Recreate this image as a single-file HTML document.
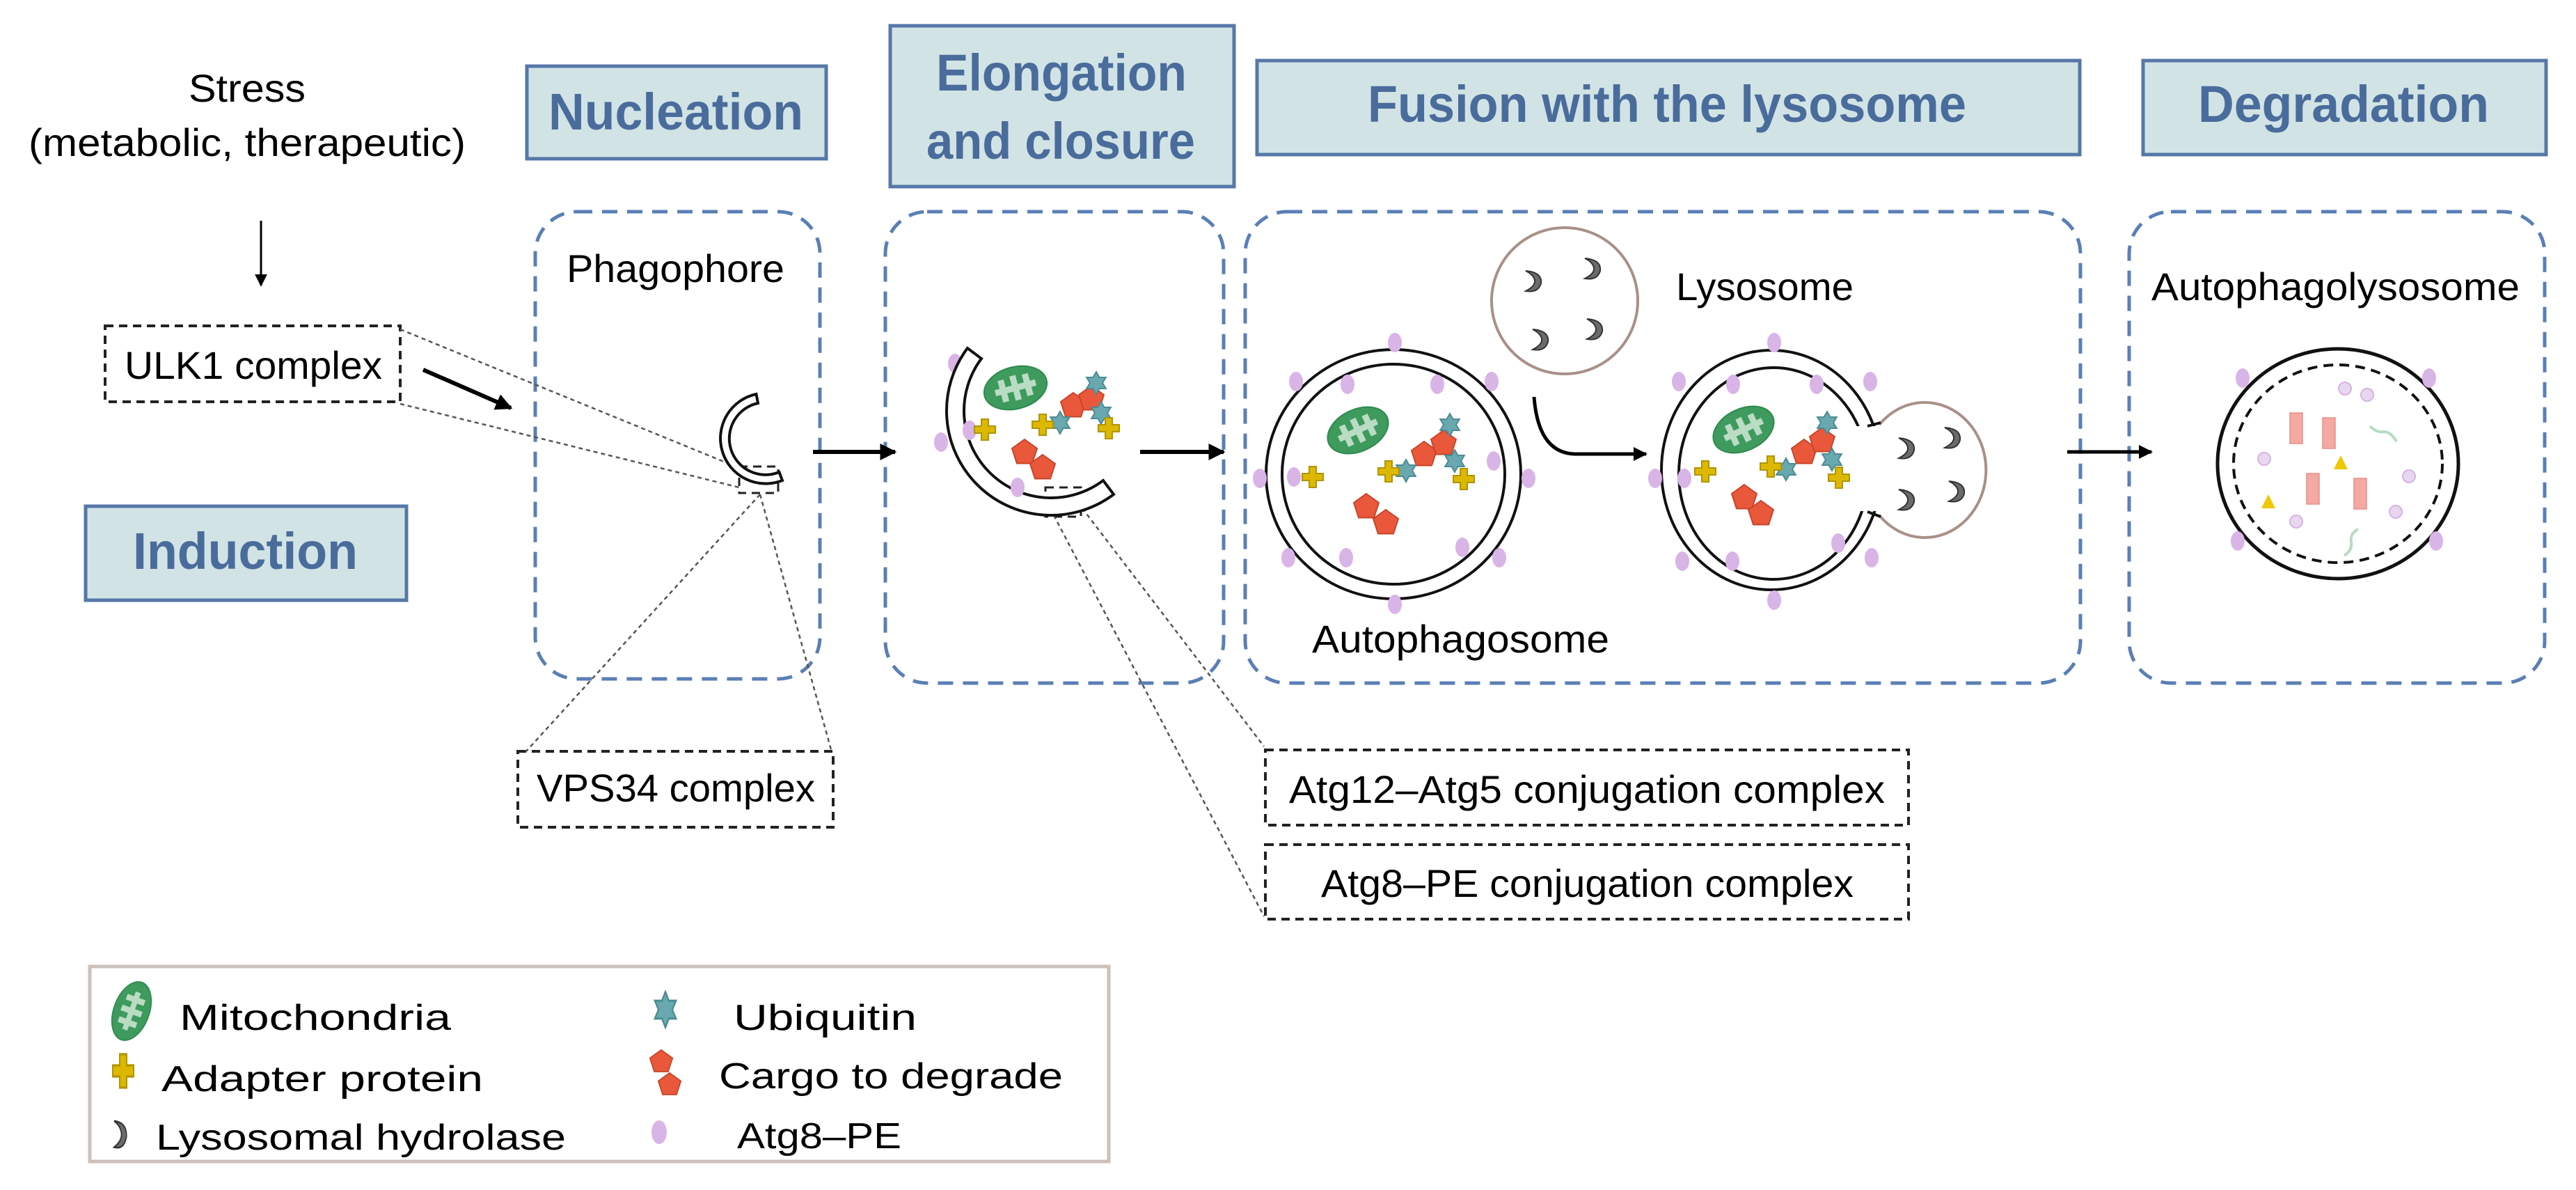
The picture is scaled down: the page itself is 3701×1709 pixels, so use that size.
<!DOCTYPE html>
<html><head><meta charset="utf-8"><style>html,body{margin:0;padding:0;background:#fff}svg{display:block}</style></head>
<body>
<svg width="3701" height="1709" viewBox="0 0 3701 1709" xmlns="http://www.w3.org/2000/svg" font-family="Liberation Sans, sans-serif">
<defs>
<marker id="ah" viewBox="0 0 10 10" refX="9" refY="5" markerWidth="4" markerHeight="4" orient="auto"><path d="M0,0 L10,5 L0,10 Z" fill="#000"/></marker>
<marker id="ah2" viewBox="0 0 10 10" refX="9" refY="5" markerWidth="6" markerHeight="6" orient="auto"><path d="M0,0 L10,5 L0,10 Z" fill="#000"/></marker>
<g id="pent"><polygon points="0,-19 18,-6 11,15.5 -11,15.5 -18,-6" fill="#e9583b" stroke="#c8452a" stroke-width="2"/></g>
<g id="star"><polygon points="0,-16 4.5,-8 13.8,-8 9,0 13.8,8 4.5,8 0,16 -4.5,8 -13.8,8 -9,0 -13.8,-8 -4.5,-8" fill="#6aa8b0" stroke="#4a8c94" stroke-width="2"/></g>
<g id="plus"><path d="M-5,-15 H5 V-5 H15 V5 H5 V15 H-5 V5 H-15 V-5 H-5 Z" fill="#dcb900" stroke="#b09400" stroke-width="2"/></g>
<g id="dot"><ellipse rx="10" ry="14" fill="#d9b4e6"/></g>
<g id="mito"><ellipse rx="46" ry="30" fill="#3e9a5d" stroke="#2f8a4e" stroke-width="2"/><path d="M-30,0 H30 M-18,-16 V16 M0,-18 V18 M18,-16 V16" stroke="#b9dcc3" stroke-width="9" fill="none"/></g>
<g id="hyd"><path d="M-10,-14 Q14,-12 12,4 Q8,18 -10,15 Q4,8 3,0 Q2,-8 -10,-14 Z" fill="#6b6b6b" stroke="#333" stroke-width="2"/></g>
<g id="pdot"><circle r="9" fill="#e9d6f0" stroke="#d4b4e0" stroke-width="2"/></g>
</defs>

<!-- Header boxes -->
<g fill="#d1e3e4" stroke="#5677a8" stroke-width="5">
<rect x="757" y="95" width="430" height="133"/>
<rect x="1279" y="37" width="494" height="231"/>
<rect x="1806" y="87" width="1182" height="135"/>
<rect x="3079" y="87" width="579" height="135"/>
<rect x="123" y="727" width="461" height="135"/>
</g>
<g fill="#4a6c9c" font-weight="bold" font-size="74">
<text x="788" y="186" textLength="366" lengthAdjust="spacingAndGlyphs">Nucleation</text>
<text x="1345" y="130" textLength="360" lengthAdjust="spacingAndGlyphs">Elongation</text>
<text x="1331" y="228" textLength="386" lengthAdjust="spacingAndGlyphs">and closure</text>
<text x="1965" y="175" textLength="860" lengthAdjust="spacingAndGlyphs">Fusion with the lysosome</text>
<text x="3158" y="175" textLength="418" lengthAdjust="spacingAndGlyphs">Degradation</text>
<text x="191" y="817" textLength="323" lengthAdjust="spacingAndGlyphs">Induction</text>
</g>

<!-- Stage dashed boxes -->
<g fill="none" stroke="#5a7fb5" stroke-width="5" stroke-dasharray="22 14">
<rect x="769" y="304" width="409" height="671" rx="60"/>
<rect x="1272" y="304" width="486" height="677" rx="60"/>
<rect x="1789" y="304" width="1200" height="677" rx="60"/>
<rect x="3059" y="304" width="597" height="677" rx="60"/>
</g>

<!-- Text labels -->
<g fill="#000" font-size="56">
<text x="271" y="146" textLength="168" lengthAdjust="spacingAndGlyphs">Stress</text>
<text x="41" y="224" textLength="628" lengthAdjust="spacingAndGlyphs">(metabolic, therapeutic)</text>
<text x="179" y="544" textLength="370" lengthAdjust="spacingAndGlyphs">ULK1 complex</text>
<text x="814" y="405" textLength="313" lengthAdjust="spacingAndGlyphs">Phagophore</text>
<text x="2408" y="431" textLength="255" lengthAdjust="spacingAndGlyphs">Lysosome</text>
<text x="1885" y="937" textLength="427" lengthAdjust="spacingAndGlyphs">Autophagosome</text>
<text x="3091" y="431" textLength="529" lengthAdjust="spacingAndGlyphs">Autophagolysosome</text>
<text x="771" y="1151" textLength="400" lengthAdjust="spacingAndGlyphs">VPS34 complex</text>
<text x="1852" y="1153" textLength="856" lengthAdjust="spacingAndGlyphs">Atg12–Atg5 conjugation complex</text>
<text x="1898" y="1288" textLength="765" lengthAdjust="spacingAndGlyphs">Atg8–PE conjugation complex</text>
</g>

<!-- Black dashed label boxes -->
<g fill="none" stroke="#222" stroke-width="4" stroke-dasharray="12 8">
<rect x="151" y="468" width="424" height="109"/>
<rect x="744" y="1079" width="453" height="109"/>
<rect x="1818" y="1077" width="924" height="108"/>
<rect x="1818" y="1213" width="924" height="107"/>
<rect x="1062" y="670" width="56" height="38" stroke-width="3"/>
<rect x="1502" y="700" width="51" height="42" stroke-width="3"/>
</g>
<!-- dotted connectors -->
<g stroke="#555" stroke-width="2.5" stroke-dasharray="6 5" fill="none">
<line x1="575" y1="473" x2="1062" y2="672"/>
<line x1="575" y1="580" x2="1062" y2="700"/>
<line x1="1092" y1="710" x2="755" y2="1080"/>
<line x1="1092" y1="710" x2="1195" y2="1080"/>
<line x1="1514" y1="740" x2="1816" y2="1316"/>
<line x1="1555" y1="730" x2="1816" y2="1072"/>
</g>

<!-- arrows -->
<g stroke="#000" fill="none">
<line x1="375" y1="317" x2="375" y2="410" stroke-width="3" marker-end="url(#ah2)"/>
<line x1="608" y1="531" x2="734" y2="586" stroke-width="6" marker-end="url(#ah)"/>
<line x1="1168" y1="649" x2="1286" y2="649" stroke-width="6" marker-end="url(#ah)"/>
<line x1="1638" y1="649" x2="1758" y2="649" stroke-width="6" marker-end="url(#ah)"/>
<path d="M2204,570 Q2210,650 2262,652 L2365,652" stroke-width="5" marker-end="url(#ah)"/>
<line x1="2970" y1="649" x2="3091" y2="649" stroke-width="5" marker-end="url(#ah)"/>
</g>

<!-- Phagophore -->
<path d="M1124,690 A65,65 0 1 1 1086.5,566 L1089,579 A52,52 0 1 0 1119.5,678 Z" fill="#fff" stroke="#111" stroke-width="4"/>

<!-- Elongation -->
<use href="#dot" x="1372" y="522"/><use href="#dot" x="1352" y="635"/>
<path d="M1600,710 A150,150 0 0 1 1390,500 L1410,515 A125,125 0 0 0 1585,690 Z" fill="#fff" stroke="#111" stroke-width="4"/>
<use href="#dot" x="1393" y="618"/><use href="#dot" x="1462" y="700"/>
<use href="#mito" transform="translate(1459,557) rotate(-15)"/>
<use href="#pent" x="1542" y="583"/><use href="#pent" x="1568" y="573"/>
<use href="#pent" x="1472" y="650"/><use href="#pent" x="1498" y="672"/>
<use href="#star" x="1575" y="550"/><use href="#star" x="1582" y="593"/><use href="#star" x="1523" y="607"/>
<use href="#plus" x="1415" y="617"/><use href="#plus" x="1498" y="610"/><use href="#plus" x="1593" y="615"/>

<!-- Lysosome -->
<circle cx="2248" cy="432" r="105" fill="#fff" stroke="#a89088" stroke-width="4"/>
<use href="#hyd" x="2202" y="403"/><use href="#hyd" x="2287" y="385"/><use href="#hyd" x="2212" y="487"/><use href="#hyd" x="2290" y="472"/>

<!-- Autophagosome -->
<ellipse cx="2002" cy="681" rx="183" ry="179" fill="#fff" stroke="#111" stroke-width="4"/>
<ellipse cx="2002" cy="681" rx="160" ry="158" fill="#fff" stroke="#111" stroke-width="4"/>
<g>
<use href="#dot" x="2004" y="492"/><use href="#dot" x="1862" y="548"/><use href="#dot" x="2143" y="548"/>
<use href="#dot" x="1810" y="687"/><use href="#dot" x="2196" y="687"/><use href="#dot" x="1851" y="801"/>
<use href="#dot" x="2154" y="801"/><use href="#dot" x="2004" y="868"/>
<use href="#dot" x="1936" y="552"/><use href="#dot" x="2065" y="552"/><use href="#dot" x="1859" y="685"/>
<use href="#dot" x="2146" y="662"/><use href="#dot" x="1934" y="801"/><use href="#dot" x="2101" y="786"/>
</g>
<use href="#mito" transform="translate(1951,618) rotate(-25)"/>
<use href="#pent" x="2046" y="653"/><use href="#pent" x="2074" y="637"/><use href="#pent" x="1963" y="728"/><use href="#pent" x="1991" y="751"/>
<use href="#star" x="2083" y="610"/><use href="#star" x="2090" y="662"/><use href="#star" x="2020" y="676"/>
<use href="#plus" x="1886" y="685"/><use href="#plus" x="1995" y="677"/><use href="#plus" x="2103" y="688"/>

<!-- Fused -->
<ellipse cx="2545" cy="675" rx="158" ry="172" fill="#fff" stroke="#111" stroke-width="4"/>
<ellipse cx="2548" cy="680" rx="136" ry="152" fill="#fff" stroke="#111" stroke-width="4"/>
<rect x="2660" y="612" width="50" height="122" fill="#fff"/>
<path d="M2700,610 A88,97 0 1 1 2700,740" fill="#fff" stroke="#a89088" stroke-width="4"/>
<path d="M2683,612 L2702,607 M2683,735 L2702,742" stroke="#111" stroke-width="4"/>
<use href="#hyd" x="2738" y="643"/><use href="#hyd" x="2738" y="717"/><use href="#hyd" x="2804" y="628"/><use href="#hyd" x="2810" y="705"/>
<g>
<use href="#dot" x="2549" y="492"/><use href="#dot" x="2412" y="548"/><use href="#dot" x="2687" y="548"/>
<use href="#dot" x="2378" y="687"/><use href="#dot" x="2420" y="687"/><use href="#dot" x="2417" y="806"/>
<use href="#dot" x="2689" y="801"/><use href="#dot" x="2549" y="862"/>
<use href="#dot" x="2490" y="552"/><use href="#dot" x="2610" y="552"/><use href="#dot" x="2489" y="806"/><use href="#dot" x="2641" y="780"/>
</g>
<use href="#mito" transform="translate(2505,617) rotate(-25)"/>
<use href="#pent" x="2592" y="650"/><use href="#pent" x="2618" y="633"/><use href="#pent" x="2506" y="715"/><use href="#pent" x="2530" y="738"/>
<use href="#star" x="2625" y="607"/><use href="#star" x="2632" y="660"/><use href="#star" x="2566" y="674"/>
<use href="#plus" x="2450" y="677"/><use href="#plus" x="2544" y="670"/><use href="#plus" x="2642" y="686"/>

<!-- Autophagolysosome -->
<ellipse cx="3359" cy="666" rx="173" ry="165" fill="#fff" stroke="#111" stroke-width="5"/>
<ellipse cx="3359" cy="666" rx="150" ry="142" fill="none" stroke="#111" stroke-width="4" stroke-dasharray="14 9"/>
<use href="#dot" x="3222" y="543"/><use href="#dot" x="3490" y="543"/><use href="#dot" x="3215" y="777"/><use href="#dot" x="3500" y="777"/>
<g fill="#f4a9a3" stroke="#eb8e88" stroke-width="1.5">
<rect x="3290" y="593" width="18" height="44"/><rect x="3337" y="600" width="18" height="44"/>
<rect x="3314" y="680" width="18" height="44"/><rect x="3382" y="687" width="18" height="44"/>
</g>
<polygon points="3363,654 3373,674 3353,674" fill="#f0c800"/>
<polygon points="3259,710 3269,730 3249,730" fill="#f0c800"/>
<use href="#pdot" x="3369" y="558"/><use href="#pdot" x="3401" y="567"/><use href="#pdot" x="3253" y="659"/>
<use href="#pdot" x="3461" y="684"/><use href="#pdot" x="3442" y="735"/><use href="#pdot" x="3299" y="749"/>
<path d="M3405,612 q10,10 20,8 q10,0 18,14" fill="none" stroke="#b5dcc0" stroke-width="4"/>
<path d="M3388,760 q-12,6 -10,18 q2,12 -10,20" fill="none" stroke="#b5dcc0" stroke-width="4"/>

<!-- Legend -->
<rect x="129" y="1388" width="1464" height="280" fill="#fff" stroke="#cbc1ba" stroke-width="5"/>
<use href="#mito" transform="translate(189,1452) rotate(-70) scale(0.95,0.85)"/>
<use href="#star" transform="translate(956,1450) scale(1.1,1.6)"/>
<use href="#plus" transform="translate(177,1538) scale(1,1.6)"/>
<use href="#pent" transform="translate(950,1525) scale(0.9)"/><use href="#pent" transform="translate(962,1558) scale(0.9)"/>
<use href="#hyd" transform="translate(172,1628) scale(0.8,1.3)"/>
<ellipse cx="947" cy="1626" rx="11" ry="17" fill="#d9b4e6"/>
<g font-size="52" fill="#000">
<text x="258" y="1479" textLength="390" lengthAdjust="spacingAndGlyphs">Mitochondria</text>
<text x="232" y="1567" textLength="462" lengthAdjust="spacingAndGlyphs">Adapter protein</text>
<text x="224" y="1651" textLength="589" lengthAdjust="spacingAndGlyphs">Lysosomal hydrolase</text>
<text x="1054" y="1479" textLength="263" lengthAdjust="spacingAndGlyphs">Ubiquitin</text>
<text x="1033" y="1563" textLength="494" lengthAdjust="spacingAndGlyphs">Cargo to degrade</text>
<text x="1059" y="1649" textLength="236" lengthAdjust="spacingAndGlyphs">Atg8–PE</text>
</g>
</svg>
</body></html>
